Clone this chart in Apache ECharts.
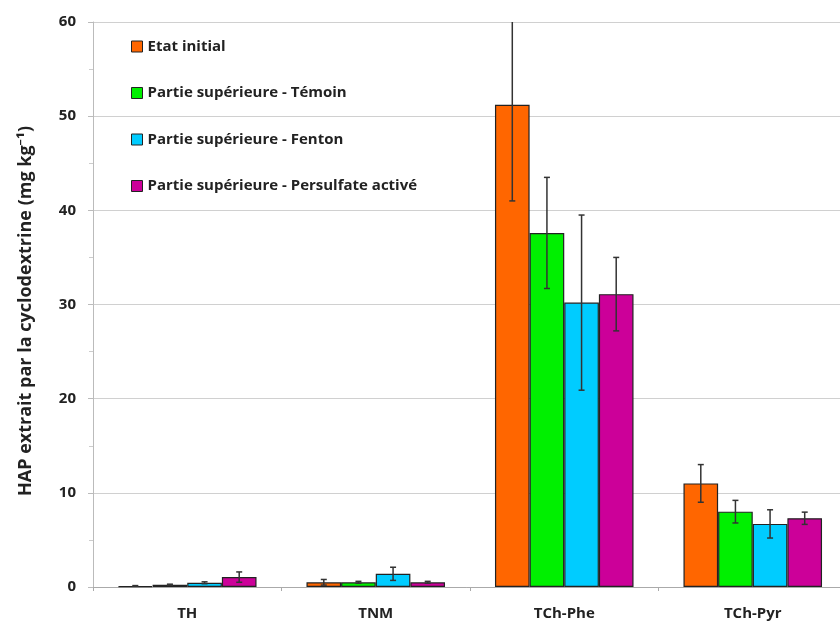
<!DOCTYPE html>
<html>
<head>
<meta charset="utf-8">
<script src="https://cdn.jsdelivr.net/npm/echarts@6/dist/echarts.min.js"></script>
<style>
  html, body { margin: 0; padding: 0; background: #fff; }
  #chart { width: 840px; height: 626px; }
</style>
</head>
<body>
<div id="chart"></div>
<script>
// catégories et séries (mg/kg)
var categories = ['TH', 'TNM', 'TCh-Phe', 'TCh-Pyr'];
var seriesNames = [
  'Etat initial',
  'Partie supérieure - Témoin',
  'Partie supérieure - Fenton',
  'Partie supérieure - Persulfate activé'
];
var colors = ['#FF6600', '#00F000', '#00CCFF', '#CC0099'];

var etatInitial = [0.1, 0.5, 51.2, 11.0];
var temoin      = [0.25, 0.5, 37.6, 8.0];
var fenton      = [0.45, 1.4, 30.2, 6.7];
var persulfate  = [1.05, 0.5, 31.1, 7.3];

// écarts (demi-barres d'erreur)
var errEtat       = [0.05, 0.3, 10.2, 2.0];
var errTemoin     = [0.05, 0.1, 5.9, 1.2];
var errFenton     = [0.1, 0.7, 9.3, 1.5];
var errPersulfate = [0.55, 0.1, 3.9, 0.65];

var yTicks = [0, 10, 20, 30, 40, 50, 60];

var values = [etatInitial, temoin, fenton, persulfate];
var errors = [errEtat, errTemoin, errFenton, errPersulfate];
var gapRatio = 0.265;

var chart = echarts.init(document.getElementById('chart'));

var series = [];
values.forEach(function (vals, s) {
  series.push({
    name: seriesNames[s],
    type: 'bar',
    data: vals,
    barGap: '0%',
    barCategoryGap: (gapRatio * 100) + '%',
    itemStyle: { color: colors[s], borderColor: '#222', borderWidth: 1.2 }
  });
});
values.forEach(function (vals, s) {
  var data = vals.map(function (v, i) {
    return [i, v - errors[s][i], v + errors[s][i]];
  });
  series.push({
    type: 'custom',
    name: seriesNames[s],
    z: 10,
    clip: true,
    data: data,
    renderItem: function (params, api) {
      var idx = api.value(0);
      var lo = api.coord([idx, api.value(1)]);
      var hi = api.coord([idx, api.value(2)]);
      var band = api.size([1, 0])[0];
      var bw = band * (1 - gapRatio) / 4;
      var x = lo[0] + (s - 1.5) * bw;
      var cap = 3;
      var st = { stroke: '#333', lineWidth: 1.5 };
      return {
        type: 'group',
        children: [
          { type: 'line', shape: { x1: x, y1: lo[1], x2: x, y2: hi[1] }, style: st },
          { type: 'line', shape: { x1: x - cap, y1: lo[1], x2: x + cap, y2: lo[1] }, style: st },
          { type: 'line', shape: { x1: x - cap, y1: hi[1], x2: x + cap, y2: hi[1] }, style: st }
        ]
      };
    }
  });
});

chart.setOption({
  animation: false,
  textStyle: { fontFamily: '"Open Sans", "Noto Sans", sans-serif' },
  legend: {
    data: seriesNames,
    orient: 'vertical',
    left: 126,
    top: 34,
    itemGap: 31.5,
    itemWidth: 11,
    itemHeight: 11,
    icon: 'rect',
    itemStyle: { borderColor: '#222', borderWidth: 1 },
    textStyle: { fontSize: 15, fontWeight: 'bold', color: '#222' }
  },
  grid: { left: 93, right: -7, top: 22, bottom: 39, outerBoundsMode: 'none' },
  xAxis: {
    type: 'category',
    data: categories,
    axisLine: { lineStyle: { color: '#aaa' } },
    axisTick: { show: true, length: 4, lineStyle: { color: '#aaa' } },
    axisLabel: { fontSize: 15, fontWeight: 'bold', color: '#222', margin: 19 }
  },
  yAxis: {
    type: 'value',
    min: 0,
    max: 60,
    interval: 10,
    name: 'HAP extrait par la cyclodextrine (mg kg\u207B\u00B9)',
    nameLocation: 'middle',
    nameGap: 58,
    nameTextStyle: { fontSize: 18, fontWeight: 'bold', color: '#222', padding: [0, 13, 0, 0] },
    axisLine: { show: true, lineStyle: { color: '#bbb' } },
    axisTick: { show: true, length: 5, lineStyle: { color: '#bbb' } },
    minorTick: { show: true, splitNumber: 2, length: 4, lineStyle: { color: '#ccc' } },
    splitLine: { lineStyle: { color: '#d0d0d0' } },
    axisLabel: {
      fontSize: 15, fontWeight: 'bold', color: '#222', margin: 17,
      formatter: function (v) { return yTicks.indexOf(v) >= 0 ? String(v) : ''; }
    }
  },
  series: series
});
</script>
</body>
</html>
